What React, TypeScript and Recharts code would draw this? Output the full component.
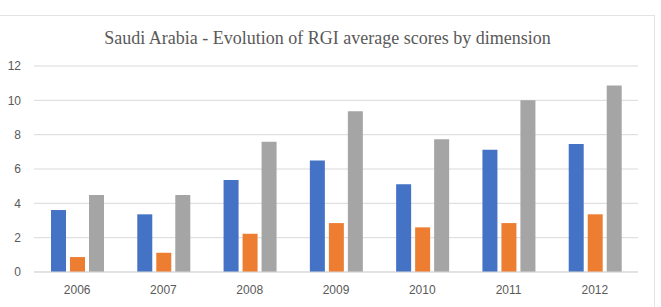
import React from "react";
import { BarChart, Bar, XAxis, YAxis, CartesianGrid } from "recharts";

const years = ["2006", "2007", "2008", "2009", "2010", "2011", "2012"];
const seriesA = [3.61, 3.36, 5.36, 6.5, 5.11, 7.12, 7.45];
const seriesB = [0.87, 1.12, 2.23, 2.85, 2.6, 2.85, 3.36];
const seriesC = [4.48, 4.48, 7.59, 9.36, 7.73, 10.0, 10.87];
const yTicks = [0, 2, 4, 6, 8, 10, 12];

const data = years.map((year, i) => ({
  year,
  a: seriesA[i],
  b: seriesB[i],
  c: seriesC[i],
}));

const W = 661;
const H = 307;

export default function App() {
  return (
    <div
      style={{
        position: "absolute",
        left: 0,
        top: 0,
        width: W,
        height: H,
        background: "#fff",
        overflow: "hidden",
      }}
    >
      {/* chart frame: only top and right edges fall inside the view */}
      <div
        style={{
          position: "absolute",
          left: -2,
          top: 15,
          width: 657,
          height: 320,
          borderTop: "1px solid #e3e3e3",
          borderRight: "1px solid #e3e3e3",
          boxSizing: "border-box",
        }}
      />
      <div
        style={{
          position: "absolute",
          left: 0,
          width: 655,
          top: 28,
          textAlign: "center",
          fontFamily: "'Liberation Serif', serif",
          fontSize: 18,
          color: "#595959",
          lineHeight: "20px",
        }}
      >
        Saudi Arabia - Evolution of RGI average scores by dimension
      </div>
      <div style={{ position: "absolute", left: 0, top: 0 }}>
        <BarChart
          width={W}
          height={H}
          data={data}
          margin={{ top: 66, right: 23, bottom: 0, left: 0 }}
          barGap={4}
          barSize={15}
        >
          <CartesianGrid vertical={false} stroke="#d9d9d9" />
          <XAxis
            dataKey="year"
            height={35}
            axisLine={{ stroke: "#d9d9d9" }}
            tickLine={false}
            tickSize={0}
            tickMargin={13}
            tick={{ fill: "#595959", fontSize: 12, fontFamily: "'Liberation Sans', sans-serif" }}
          />
          <YAxis
            width={34}
            domain={[0, 12]}
            ticks={yTicks}
            axisLine={false}
            tickLine={false}
            tickSize={0}
            tickMargin={13}
            tick={{ fill: "#595959", fontSize: 12, fontFamily: "'Liberation Sans', sans-serif" }}
          />
          <Bar dataKey="a" fill="#4472c4" isAnimationActive={false} />
          <Bar dataKey="b" fill="#ed7d31" isAnimationActive={false} />
          <Bar dataKey="c" fill="#a5a5a5" isAnimationActive={false} />
        </BarChart>
      </div>
    </div>
  );
}
